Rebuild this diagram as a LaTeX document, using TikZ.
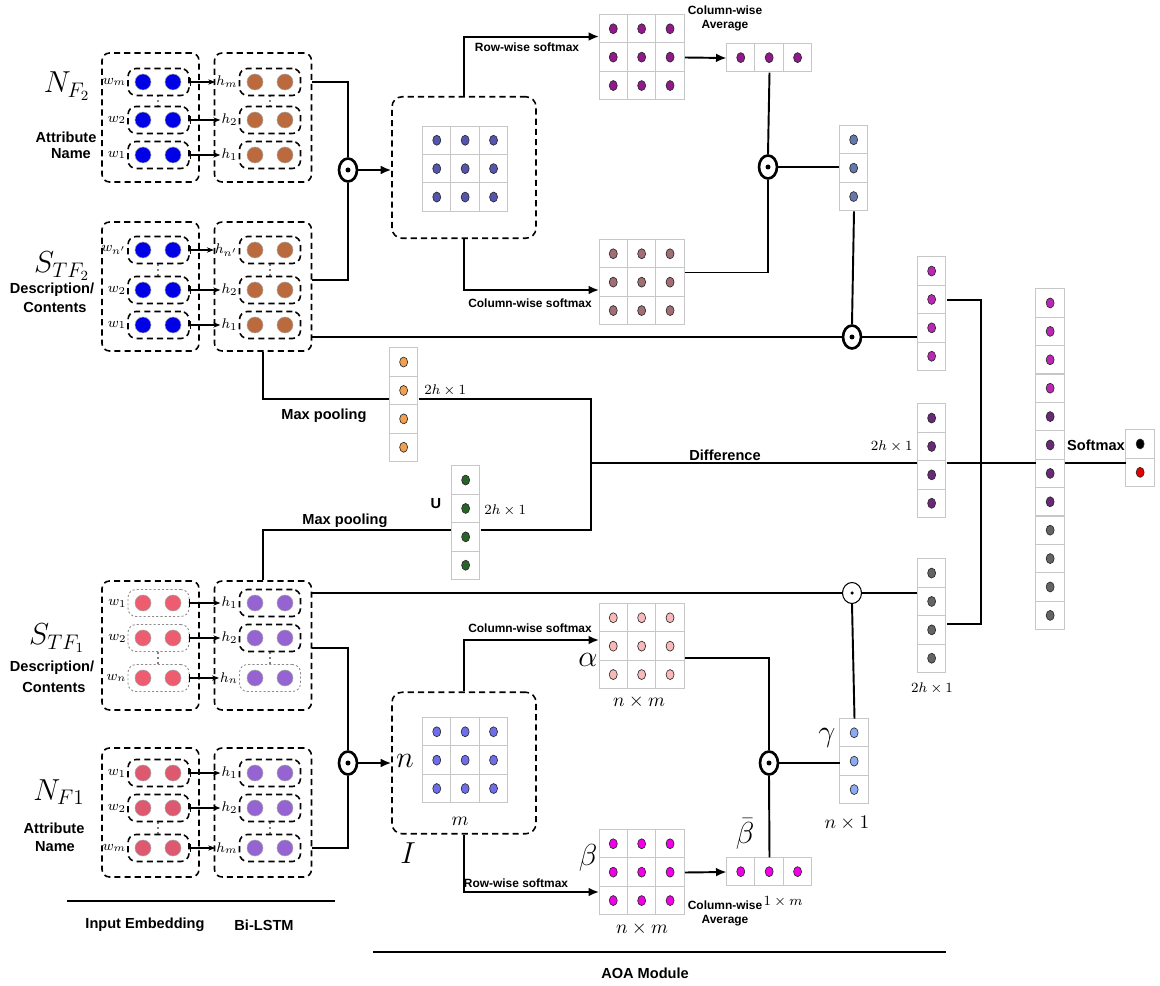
\documentclass[tikz,border=0pt]{standalone}
\usepackage{fontspec}
\newfontfamily\hv{Liberation Sans}
\usetikzlibrary{shapes.geometric,arrows.meta,calc}
\definecolor{cblue}{RGB}{0,0,230}
\definecolor{cbrown}{RGB}{186,106,60}
\definecolor{cpinkemb}{RGB}{238,92,112}
\definecolor{credemb}{RGB}{222,88,112}
\definecolor{clstm}{RGB}{150,100,210}
\definecolor{cslate}{RGB}{85,85,175}
\definecolor{cmpur}{RGB}{145,25,140}
\definecolor{cmauve}{RGB}{160,110,115}
\definecolor{csteel}{RGB}{100,120,170}
\definecolor{corange}{RGB}{240,160,80}
\definecolor{cgreen}{RGB}{40,100,40}
\definecolor{cmag}{RGB}{185,40,180}
\definecolor{cdpur}{RGB}{105,40,120}
\definecolor{cdgray}{RGB}{100,100,100}
\definecolor{cperi}{RGB}{110,110,235}
\definecolor{clpink}{RGB}{250,185,185}
\definecolor{chotmag}{RGB}{240,0,230}
\definecolor{clblue}{RGB}{140,170,240}
\definecolor{cred}{RGB}{230,0,0}

\newcommand\rowpair[8]{%
  \node[#7] (#1e) at (158.5,#2) {};
  \node[#8] (#1h) at (270,#2) {};
  \node[sub, anchor=east] (#1w) at (#1e.west) {$#3$};
  \node[sub, anchor=east] (#1l) at (#1h.west) {$#4$};
  \filldraw[pdot, fill=#5] (143,#2) circle (0.16cm);
  \filldraw[pdot, fill=#5] (173,#2) circle (0.16cm);
  \filldraw[pdot, fill=#6] (255,#2) circle (0.16cm);
  \filldraw[pdot, fill=#6] (285,#2) circle (0.16cm);
  \draw[smallarr] (#1e.east) -- (#1l.west);}

\newcommand\vdts[2]{%
  \foreach \k in {-5,0,5} \fill (#1,#2+\k) circle (0.55pt);}

\newcommand\cgrid[6]{%
  \node[grid, minimum width=#4*0.568cm, minimum height=#5*0.568cm] (#1) at (#2,#3) {};
  \begin{scope}[shift={(#1.north west)}]
    \foreach \i in {1,...,#4}{\foreach \j in {1,...,#5}{%
      \draw[cell] ({(\i-1)*28.4},{(\j-1)*28.4}) rectangle ++(28.4,28.4);
      \filldraw[dotst, fill=#6] ({(\i-0.5)*28.4},{(\j-0.5)*28.4}) ellipse [x radius=0.08cm, y radius=0.1cm];
    }}
  \end{scope}}

\begin{document}
\begin{tikzpicture}[x=0.02cm, y=-0.02cm,
  conn/.style={line width=1.1pt, black},
  arr/.style={conn, -{Latex[length=6pt,width=5pt]}},
  smallarr/.style={line width=0.6pt, {Bar[width=4pt]}-{Stealth[length=4pt,width=3pt]}},
  outerbox/.style={draw, line width=0.9pt, dash pattern=on 3.5pt off 2.3pt, rounded corners=0.15cm, minimum width=1.94cm, minimum height=2.58cm, inner sep=0},
  pill/.style={draw, line width=0.9pt, dash pattern=on 3.5pt off 2.3pt, rounded corners=0.16cm, minimum width=1.22cm, minimum height=0.54cm, inner sep=0},
  dpill/.style={draw=black!45, line width=0.5pt, dash pattern=on 1.2pt off 1.2pt, rounded corners=0.16cm, minimum width=1.22cm, minimum height=0.54cm, inner sep=0},
  bigbox/.style={draw, line width=0.9pt, dash pattern=on 3.5pt off 2.3pt, rounded corners=0.2cm, minimum width=2.88cm, minimum height=2.83cm, inner sep=0},
  pdot/.style={draw=black!35, line width=0.3pt},
  dotst/.style={draw=black!85, line width=0.35pt},
  grid/.style={draw=none, inner sep=0},
  cell/.style={draw=black!22, line width=0.6pt, fill=white},
  odot/.style={draw, ellipse, line width=1.5pt, minimum width=0.36cm, minimum height=0.46cm, inner sep=0, fill=white},
  odotthin/.style={draw, ellipse, line width=0.6pt, minimum width=0.38cm, minimum height=0.42cm, inner sep=0, fill=white},
  sub/.style={font=\fontsize{8.5}{10}\selectfont, inner sep=0.5pt},
  tb/.style={font=\hv\bfseries\fontsize{8.3}{9.5}\selectfont, inner sep=0},
  ts/.style={font=\hv\bfseries\fontsize{6.8}{8}\selectfont, inner sep=0, align=center},
  big/.style={font=\fontsize{17}{20}\selectfont, inner sep=0},
  mid/.style={font=\fontsize{11}{13}\selectfont, inner sep=0},
  sml/.style={font=\fontsize{8.5}{10}\selectfont, inner sep=0}
]
\useasboundingbox (0,0) rectangle (1160,986);

% ---------- left encoders ----------
\node[outerbox] (nfE) at (150.5,117.5) {};
\node[outerbox] (nfL) at (263,117.5) {};
\rowpair{a1}{82}{w_m}{h_m}{cblue}{cbrown}{pill}{pill}
\rowpair{a2}{120}{w_2}{h_2}{cblue}{cbrown}{pill}{pill}
\rowpair{a3}{155}{w_1}{h_1}{cblue}{cbrown}{pill}{pill}
\vdts{158}{101}
\vdts{270}{101}

\node[outerbox] (stE) at (150.5,286.5) {};
\node[outerbox] (stL) at (263,286.5) {};
\rowpair{b1}{250}{w_{n'}}{h_{n'}}{cblue}{cbrown}{pill}{pill}
\rowpair{b2}{290}{w_2}{h_2}{cblue}{cbrown}{pill}{pill}
\rowpair{b3}{325}{w_1}{h_1}{cblue}{cbrown}{pill}{pill}
\vdts{158}{270}
\vdts{270}{270}

\node[outerbox] (s1E) at (150.5,645.5) {};
\node[outerbox] (s1L) at (263,645.5) {};
\rowpair{c1}{603}{w_1}{h_1}{cpinkemb}{clstm}{dpill}{pill}
\rowpair{c2}{638}{w_2}{h_2}{cpinkemb}{clstm}{dpill}{pill}
\rowpair{c3}{678}{w_n}{h_n}{cpinkemb}{clstm}{dpill}{dpill}
\vdts{158}{658}
\vdts{270}{658}

\node[outerbox] (n1E) at (150.5,812.5) {};
\node[outerbox] (n1L) at (263,812.5) {};
\rowpair{d1}{773}{w_1}{h_1}{credemb}{clstm}{pill}{pill}
\rowpair{d2}{808}{w_2}{h_2}{credemb}{clstm}{pill}{pill}
\rowpair{d3}{848}{w_m}{h_m}{credemb}{clstm}{pill}{pill}
\vdts{158}{828}
\vdts{270}{828}

% left labels
\node[big] (lNF2) at (67,86) {$N_{F_2}$};
\node[tb] (lAt1) at (66,137) {Attribute};
\node[tb] (lNa1) at (71,154) {Name};
\node[big] (lST2) at (62,266) {$S_{TF_2}$};
\node[tb] (lDe2) at (52,290) {Description/};
\node[tb] (lCo2) at (55,307) {Contents};
\node[big] (lST1) at (57,638) {$S_{TF_1}$};
\node[tb] (lDe1) at (52,668) {Description/};
\node[tb] (lCo1) at (54,687) {Contents};
\node[big] (lNF1) at (59,792) {$N_{F1}$};
\node[tb] (lAt2) at (54,828) {Attribute};
\node[tb] (lNa2) at (55,847) {Name};

% bottom captions
\coordinate (ie1) at (67,901);
\coordinate (ie2) at (335,901);
\draw[conn] (ie1) -- (ie2);
\node[tb] (lIE) at (145,925) {Input Embedding};
\node[tb] (lBL) at (264,925) {Bi-LSTM};
\coordinate (ao1) at (373,952);
\coordinate (ao2) at (946,952);
\draw[conn] (ao1) -- (ao2);
\node[tb] (lAOA) at (645,973) {AOA Module};

% ---------- top attention ----------
\node[bigbox] (T1) at (464,167.5) {};
\cgrid{M1}{465.5}{169}{3}{3}{cslate}
\cgrid{P1}{642}{57.5}{3}{3}{cmpur}
\cgrid{avgT}{769.5}{58}{3}{1}{cmpur}
\cgrid{Q1}{642}{282.5}{3}{3}{cmauve}
\cgrid{V1}{854}{168.5}{1}{3}{csteel}
\cgrid{R1}{932}{314}{1}{4}{cmag}
\cgrid{O1}{404}{405}{1}{4}{corange}
\cgrid{U1}{466}{523}{1}{4}{cgreen}
\cgrid{D1}{932}{461}{1}{4}{cdpur}
\cgrid{G1}{932}{616}{1}{4}{cdgray}

% big concatenated vector
\node[grid, minimum width=0.568cm, minimum height=12*0.568cm] (Big) at (1050.5,459.5) {};
\begin{scope}[shift={(Big.north west)}]
\foreach \j/\c in {1/cmag,2/cmag,3/cmag,4/cmag,5/cdpur,6/cdpur,7/cdpur,8/cdpur,9/cdgray,10/cdgray,11/cdgray,12/cdgray}{%
  \draw[cell] (0,{(\j-1)*28.4}) rectangle ++(28.4,28.4);
  \filldraw[dotst, fill=\c] (14.2,{(\j-0.5)*28.4}) ellipse [x radius=0.08cm, y radius=0.1cm];}
\end{scope}
% softmax output
\node[grid, minimum width=0.568cm, minimum height=2*0.568cm] (SM) at (1140.5,458.5) {};
\begin{scope}[shift={(SM.north west)}]
\foreach \j/\c in {1/black,2/cred}{%
  \draw[cell] (0,{(\j-1)*28.4}) rectangle ++(28.4,28.4);
  \filldraw[dotst, fill=\c] (14.2,{(\j-0.5)*28.4}) ellipse [x radius=0.08cm, y radius=0.1cm];}
\end{scope}

% ---------- bottom attention ----------
\node[bigbox] (T2) at (464,763) {};
\cgrid{M2}{465.5}{760.5}{3}{3}{cperi}
\cgrid{AL}{642}{646.5}{3}{3}{clpink}
\cgrid{BE}{642}{872.5}{3}{3}{chotmag}
\cgrid{BB}{769.5}{872}{3}{1}{chotmag}
\cgrid{GA}{854.5}{761.5}{1}{3}{clblue}

% ---------- odot operators ----------
\node[odot] (od1) at (348,170) {};
\node[odot] (od2) at (348,763) {};
\node[odot] (od3) at (768,167) {};
\node[odot] (od4) at (852,337) {};
\node[odotthin] (od5) at (852,593) {};
\node[odot] (od6) at (769,763) {};
\foreach \o in {od1,od2,od3,od4,od6} \fill (\o.center) circle (0.05cm);
\fill (od5.center) circle (0.035cm);

% ---------- connectors ----------
\draw[conn] (nfL.east |- a1h) -| (od1.north);
\draw[conn] ([yshift=0.13cm]stL.east) -| (od1.south);
\draw[arr] (od1.east) -- (od1.east -| T1.west);
\draw[arr] (T1.north) |- ([yshift=-0.44cm]P1.north west);
\draw[arr] (T1.south) |- ([yshift=-0.15cm]Q1.west);
\draw[arr] (P1.east) -- (avgT.west);
\draw[conn] (avgT.south) -- (od3.north);
\draw[conn] (od3.south) |- ([yshift=0.2cm]Q1.east);
\draw[conn] (od3.east) -- (od3.east -| V1.west);
\draw[conn] (V1.south) -- (od4.north);
\draw[conn] (stL.east |- od4) -- (od4.west);
\draw[conn] (od4.east) -- (od4.east -| R1.west);

\coordinate (bus) at (981,463);
\coordinate (dj) at (591,463);
\draw[conn] ([yshift=0.28cm]R1.east) -| (bus) |- ([yshift=-0.16cm]G1.east);
\draw[conn] (dj) -- (dj -| D1.west);
\draw[conn] (dj -| D1.east) -- (dj -| Big.west);
\draw[conn] (dj -| Big.east) -- (dj -| SM.west);
\draw[conn] (stL.south) |- ([yshift=0.12cm]O1.west);
\draw[conn] ([yshift=0.12cm]O1.east) -| (dj);
\draw[conn] (s1L.north) |- ([yshift=-0.14cm]U1.west);
\draw[conn] ([yshift=-0.14cm]U1.east) -| (dj);

\draw[conn] (s1L.east |- od5) -- (od5.west);
\draw[conn] (od5.east) -- (od5.east -| G1.west);
\draw[conn] ([yshift=-0.05cm]s1L.east) -| (od2.north);
\draw[conn] (n1L.east |- d3h) -| (od2.south);
\draw[arr] (od2.east) -- (od2.east -| T2.west);
\draw[arr] (T2.north) |- ([yshift=0.13cm]AL.west);
\draw[arr] (T2.south) |- ([yshift=-0.39cm]BE.west);
\draw[conn] ([yshift=-0.23cm]AL.east) -| (od6.north);
\draw[arr] (BE.east) -- (BB.west);
\draw[conn] (BB.north) -- (od6.south);
\draw[conn] (od6.east) -- (od6.east -| GA.west);
\draw[conn] (GA.north) -- (od5.south);

% ---------- labels ----------
\node[ts] (lRW1) at (527,47) {Row-wise softmax};
\node[ts] (lCA1) at (725,18) {Column-wise\\Average};
\node[ts] (lCW1) at (530,303) {Column-wise softmax};
\node[tb] (lMP1) at (324,416) {Max pooling};
\node[tb] (lMP2) at (345,521) {Max pooling};
\node[sml, anchor=west] (l2h1) at (424,390) {$2h\times 1$};
\node[tb] (lU) at (436,504) {U};
\node[sml, anchor=west] (l2h2) at (484,510) {$2h\times 1$};
\node[tb] (lDiff) at (725,455) {Difference};
\node[sml, anchor=east] (l2h3) at (913,446) {$2h\times 1$};
\node[sml] (l2h4) at (932,688) {$2h\times 1$};
\node[tb] (lSM) at (1096,445) {Softmax};

\node[ts] (lCW2) at (530,628) {Column-wise softmax};
\node[big] (lal) at (588,660) {$\alpha$};
\node[mid] (lnm1) at (639,702) {$n\times m$};
\node[big] (lga) at (827,738) {$\gamma$};
\node[mid] (ln1) at (847,823) {$n\times 1$};
\node[big] (lbe) at (588,858) {$\beta$};
\node[mid] (lnm2) at (642,929) {$n\times m$};
\node[big] (lbb) at (745,834) {$\bar{\beta}$};
\node[sml] (l1m) at (783,902) {$1\times m$};
\node[ts] (lCA2) at (725,913) {Column-wise\\Average};
\node[ts] (lRW2) at (516,883) {Row-wise softmax};
\node[big] (ln) at (405,761) {$n$};
\node[mid] (lm) at (460,821) {$m$};
\node[big] (lI) at (408,853) {$I$};
\end{tikzpicture}
\end{document}
